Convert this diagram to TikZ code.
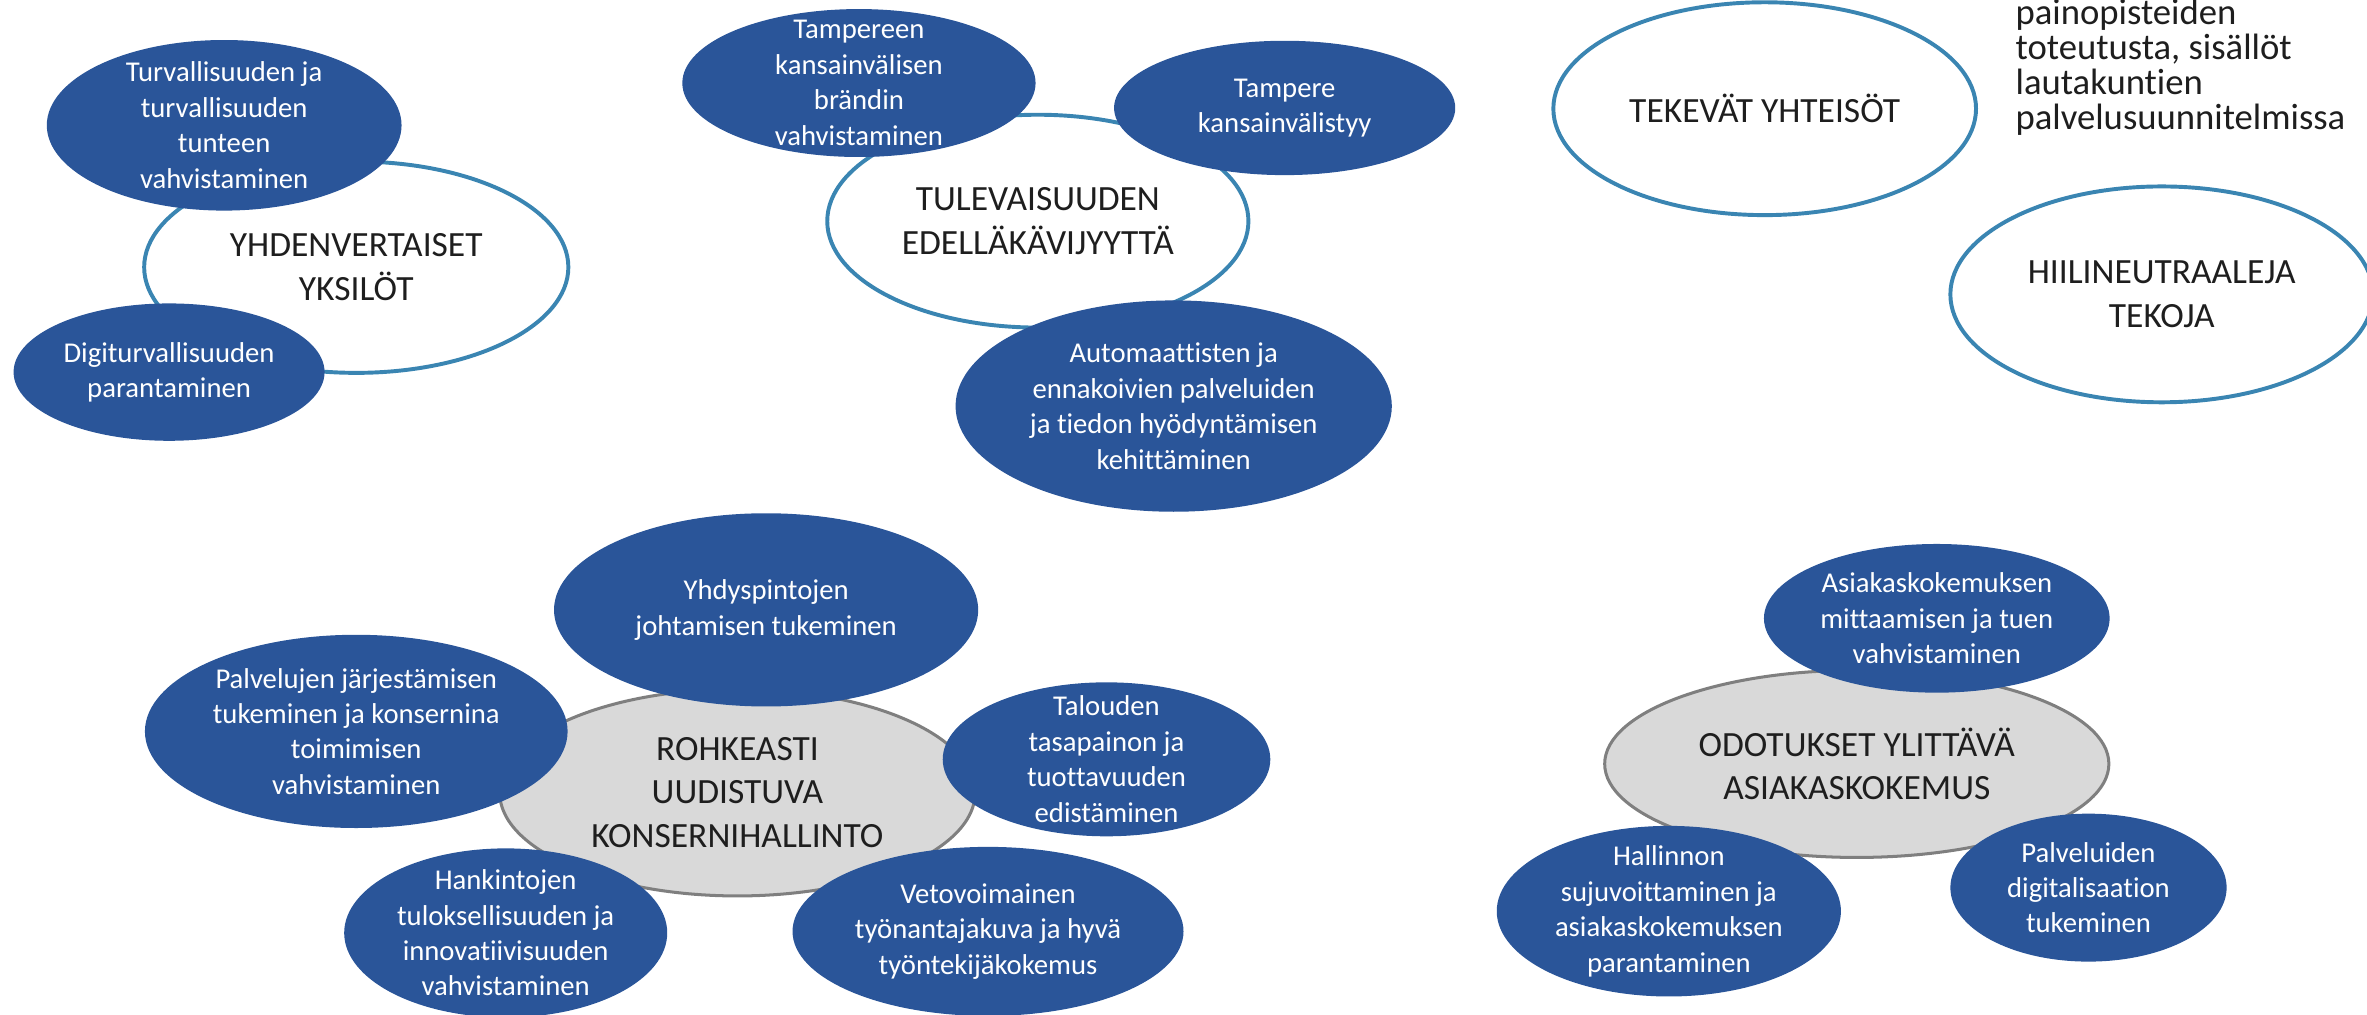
\documentclass[tikz,border=0pt]{standalone}
\usepackage{fontspec}
\setmainfont[Ligatures=NoCommon]{Carlito}
\usetikzlibrary{shapes.geometric}
\definecolor{tblue}{HTML}{2A5599}
\definecolor{tteal}{HTML}{3A85B2}
\definecolor{tgray}{HTML}{D9D9D9}
\definecolor{tline}{HTML}{7F7F7F}
\definecolor{tink}{HTML}{1E1E1E}
\begin{document}
\begin{tikzpicture}[x=1pt, y=-1pt,
        goal/.style={ellipse, draw=tteal, line width=2.6pt, fill=white, inner sep=0pt},
        core/.style={ellipse, draw=tline, line width=2pt, fill=tgray, inner sep=0pt},
        blob/.style={ellipse, fill=tblue, inner sep=0pt},
        btext/.style={align=center, text=white, inner sep=0pt, font=\fontsize{19}{23.5}\selectfont},
        gtext/.style={align=center, text=tink, inner sep=0pt, font=\fontsize{23.5}{28.8}\selectfont}
    ]
        \useasboundingbox (0,0) rectangle (1568,672);

        % Yhdenvertaiset yksilot
        \node (yhd) [goal, minimum width=281pt, minimum height=140pt] at (236,177) {};
        \node (yhd-t) [gtext] at (yhd) {YHDENVERTAISET\\YKSILÖT};
        \node (turva) [blob, minimum width=235pt, minimum height=113pt] at (148.5,83) {};
        \node (turva-t) [btext] at (turva) {Turvallisuuden ja\\turvallisuuden\\tunteen\\vahvistaminen};
        \node (digi) [blob, minimum width=206pt, minimum height=91pt] at (112,246.5) {};
        \node (digi-t) [btext] at (digi) {Digiturvallisuuden\\parantaminen};

        % Tulevaisuuden edellakavijyytta
        \node (tul) [goal, minimum width=279pt, minimum height=141pt] at (687.5,146.5) {};
        \node (tul-t) [gtext] at (tul) {TULEVAISUUDEN\\EDELLÄKÄVIJYYTTÄ};
        \node (brandi) [blob, minimum width=234pt, minimum height=98pt] at (569,55) {};
        \node (brandi-t) [btext] at (brandi) {Tampereen\\kansainvälisen\\brändin\\vahvistaminen};
        \node (kvl) [blob, minimum width=226pt, minimum height=89pt] at (851,71.5) {};
        \node (kvl-t) [btext] at (kvl) {Tampere\\kansainvälistyy};
        \node (auto) [blob, minimum width=289pt, minimum height=140pt] at (777.5,269) {};
        \node (auto-t) [btext] at (auto) {Automaattisten ja\\ennakoivien palveluiden\\ja tiedon hyödyntämisen\\kehittäminen};

        % Tekevat yhteisot, hiilineutraaleja tekoja
        \node (tek) [goal, minimum width=280pt, minimum height=141pt] at (1169,72) {};
        \node (tek-t) [gtext] at (tek) {TEKEVÄT YHTEISÖT};
        \node (hiili) [goal, minimum width=280pt, minimum height=143pt] at (1432,195) {};
        \node (hiili-t) [gtext] at (hiili) {HIILINEUTRAALEJA\\TEKOJA};
        \node (paino) [anchor=north west, align=left, text=tink, inner sep=0pt,
            font=\fontsize{24.3}{23.3}\selectfont] at (1335,-1)
            {painopisteiden\\toteutusta, sisällöt\\lautakuntien\\palvelusuunnitelmissa};

        % Rohkeasti uudistuva konsernihallinto
        \node (rohk) [core, minimum width=315pt, minimum height=137pt] at (488.5,525) {};
        \node (rohk-t) [gtext] at (rohk) {ROHKEASTI\\UUDISTUVA\\KONSERNIHALLINTO};
        \node (yhdys) [blob, minimum width=281pt, minimum height=128pt] at (507.5,404) {};
        \node (yhdys-t) [btext] at (yhdys) {Yhdyspintojen\\johtamisen tukeminen};
        \node (palv) [blob, minimum width=280pt, minimum height=128pt] at (236,484.5) {};
        \node (palv-t) [btext] at (palv) {Palvelujen järjestämisen\\tukeminen ja konsernina\\toimimisen\\vahvistaminen};
        \node (tal) [blob, minimum width=217pt, minimum height=102pt] at (733,503) {};
        \node (tal-t) [btext] at (tal) {Talouden\\tasapainon ja\\tuottavuuden\\edistäminen};
        \node (hank) [blob, minimum width=214pt, minimum height=112pt] at (335,618) {};
        \node (hank-t) [btext] at (hank) {Hankintojen\\tuloksellisuuden ja\\innovatiivisuuden\\vahvistaminen};
        \node (veto) [blob, minimum width=259pt, minimum height=112pt] at (654.5,617) {};
        \node (veto-t) [btext] at (veto) {Vetovoimainen\\työnantajakuva ja hyvä\\työntekijäkokemus};

        % Odotukset ylittava asiakaskokemus
        \node (odo) [core, minimum width=334pt, minimum height=124pt] at (1230,506) {};
        \node (odo-t) [gtext] at (odo) {ODOTUKSET YLITTÄVÄ\\ASIAKASKOKEMUS};
        \node (asia) [blob, minimum width=229pt, minimum height=98.5pt] at (1283,409.6) {};
        \node (asia-t) [btext] at (asia) {Asiakaskokemuksen\\mittaamisen ja tuen\\vahvistaminen};
        \node (hall) [blob, minimum width=228pt, minimum height=113pt] at (1105.5,603.6) {};
        \node (hall-t) [btext] at (hall) {Hallinnon\\sujuvoittaminen ja\\asiakaskokemuksen\\parantaminen};
        \node (pdig) [blob, minimum width=183pt, minimum height=98pt] at (1383.5,588) {};
        \node (pdig-t) [btext] at (pdig) {Palveluiden\\digitalisaation\\tukeminen};

    \end{tikzpicture}
\end{document}
